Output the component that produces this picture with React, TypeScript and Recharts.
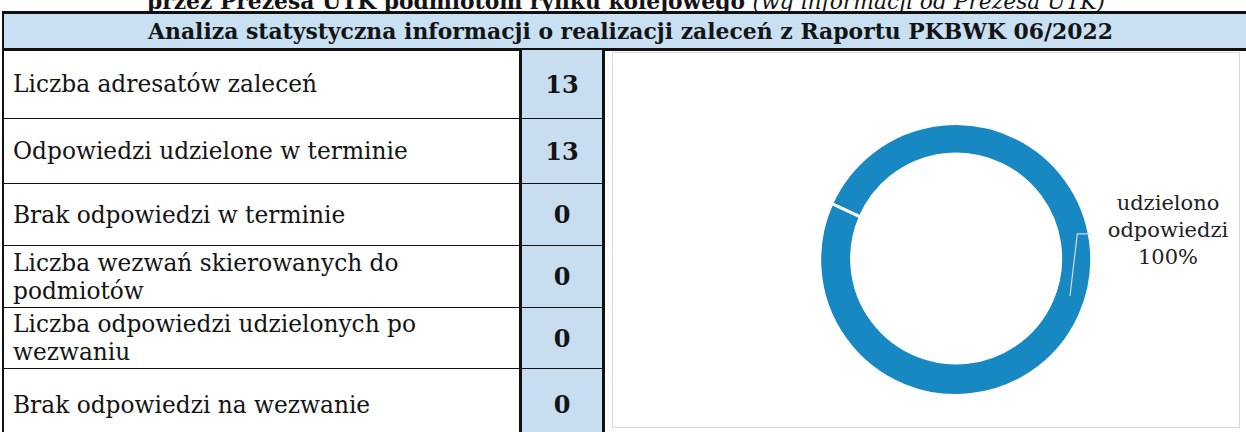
import React from "react";
import { PieChart, Pie, Cell } from "recharts";

const rowLabels = [
  ["Liczba adresatów zaleceń"],
  ["Odpowiedzi udzielone w terminie"],
  ["Brak odpowiedzi w terminie"],
  ["Liczba wezwań skierowanych do", "podmiotów"],
  ["Liczba odpowiedzi udzielonych po", "wezwaniu"],
  ["Brak odpowiedzi na wezwanie"],
];
const rowValues = [13, 13, 0, 0, 0, 0];

const sliceNames = ["udzielono odpowiedzi", "brak odpowiedzi"];
const sliceValues = [rowValues[1], rowValues[2]];
const sliceColors = ["#1788C2", "#A5A5A5"];

const pieData = sliceNames
  .map((name, i) => ({ name, value: sliceValues[i], color: sliceColors[i] }))
  .filter((d) => d.value > 0);

const FONT = '"DejaVu Serif", serif';
const rowEdges = [50, 118, 183, 245, 307, 368, 440];

const renderLabel = (props: any) => {
  const { cx, cy, midAngle, innerRadius, outerRadius, name, percent } = props;
  const RAD = Math.PI / 180;
  const r0 = (innerRadius + outerRadius) / 2;
  const a0 = (midAngle + 8) * RAD;
  const x0 = cx + r0 * Math.cos(a0);
  const y0 = cy - r0 * Math.sin(a0);
  const a1 = 12.5 * RAD;
  const x1 = cx + (r0 + 5) * Math.cos(a1);
  const y1 = cy - (r0 + 5) * Math.sin(a1);
  const x2 = x1 + 13;
  const words = String(name).split(" ");
  const tx = cx + outerRadius + 77;
  return (
    <g>
      <polyline
        points={`${x0},${y0} ${x1},${y1} ${x2},${y1}`}
        fill="none"
        stroke="#d9d9d9"
        strokeWidth={1.2}
      />
      <text
        x={tx}
        y={cy - 51}
        textAnchor="middle"
        fontFamily={FONT}
        fontSize={21}
        fill="#222"
      >
        {words.map((w, i) => (
          <tspan key={w} x={tx} dy={i === 0 ? 0 : 27}>
            {w}
          </tspan>
        ))}
        <tspan x={tx} dy={27}>
          {`${Math.round(percent * 100)}%`}
        </tspan>
      </text>
    </g>
  );
};

export default function App() {
  return (
    <div
      style={{
        position: "absolute",
        left: 0,
        top: 0,
        width: 1246,
        height: 432,
        overflow: "hidden",
        background: "#fff",
        fontFamily: FONT,
        color: "#141414",
      }}
    >
      {/* top title, cut off by the page edge as in the scan */}
      <div
        style={{
          position: "absolute",
          top: -11,
          left: 0,
          width: 1252,
          textAlign: "center",
          fontSize: 21.8,
          lineHeight: "normal",
          whiteSpace: "nowrap",
        }}
      >
        <b>przez Prezesa UTK podmiotom rynku kolejowego </b>
        <i>(wg informacji od Prezesa UTK)</i>
      </div>

      {/* header bar */}
      <div
        style={{
          position: "absolute",
          left: 2,
          top: 11,
          width: 1253,
          height: 34,
          background: "#C8E0F2",
          borderTop: "3px solid #111",
          borderBottom: "3px solid #111",
          borderLeft: "2px solid #111",
          display: "flex",
          alignItems: "center",
          justifyContent: "center",
          fontWeight: "bold",
          fontSize: 21.9,
          paddingRight: 10,
          boxSizing: "content-box",
        }}
      >
        Analiza statystyczna informacji o realizacji zaleceń z Raportu PKBWK 06/2022
      </div>

      {/* rows */}
      {rowLabels.map((lines, i) => {
        const top = rowEdges[i];
        const h = rowEdges[i + 1] - top;
        return (
          <React.Fragment key={i}>
            <div
              style={{
                position: "absolute",
                left: 2,
                top,
                width: 519,
                height: h,
                borderLeft: "2px solid #111",
                borderTop: i === 0 ? "none" : "1.5px solid #111",
                boxSizing: "border-box",
                display: "flex",
                flexDirection: "column",
                justifyContent: "center",
                paddingLeft: 9,
                fontSize: 23.3,
                lineHeight: "28px",
              }}
            >
              {lines.map((l) => (
                <div key={l}>{l}</div>
              ))}
            </div>
            <div
              style={{
                position: "absolute",
                left: 519,
                top,
                width: 86,
                height: h,
                background: "#C9DDF0",
                borderLeft: "3px solid #111",
                borderRight: "3px solid #111",
                borderTop: i === 0 ? "none" : "1.5px solid #111",
                boxSizing: "border-box",
                display: "flex",
                alignItems: "center",
                justifyContent: "center",
                fontWeight: "bold",
                fontSize: 24,
              }}
            >
              {rowValues[i]}
            </div>
          </React.Fragment>
        );
      })}

      {/* chart box */}
      <div
        style={{
          position: "absolute",
          left: 612,
          top: 52,
          width: 628,
          height: 376,
          border: "1px solid #d9d9d9",
          boxSizing: "border-box",
        }}
      >
        <PieChart width={626} height={374}>
          <Pie
            data={pieData}
            dataKey="value"
            nameKey="name"
            cx={337}
            cy={203}
            innerRadius={104.5}
            outerRadius={136}
            startAngle={155}
            endAngle={-205}
            stroke="#fff"
            strokeWidth={3}
            label={renderLabel}
            labelLine={false}
            isAnimationActive={false}
          >
            {pieData.map((d) => (
              <Cell key={d.name} fill={d.color} />
            ))}
          </Pie>
        </PieChart>
      </div>
    </div>
  );
}
